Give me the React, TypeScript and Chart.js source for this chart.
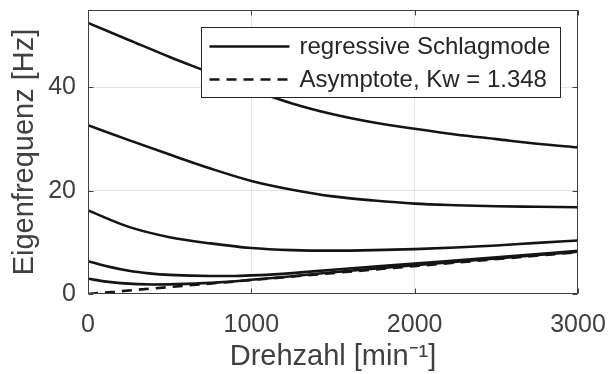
import React, { useEffect, useRef } from "react";
import { Chart, registerables } from "chart.js";

Chart.register(...registerables);

// ---- data ----
const xTicks = [0, 1000, 2000, 3000];
const yTicks = [0, 20, 40];

const rpm1 = [0, 250, 500, 750, 1000, 1250, 1500, 1750, 2000, 2250, 2500, 2750, 3000];
const mode1 = [52.5, 49.2, 45.9, 42.8, 39.6, 36.9, 34.8, 33.2, 32.0, 30.9, 30.0, 29.1, 28.4];

const rpm2 = [0, 250, 500, 750, 1000, 1250, 1500, 1750, 2000, 2250, 2500, 2750, 3000];
const mode2 = [32.7, 29.8, 27.0, 24.3, 21.9, 20.2, 18.9, 18.1, 17.5, 17.2, 17.0, 16.9, 16.8];

const rpm3 = [0, 250, 500, 750, 1000, 1250, 1500, 1750, 2000, 2250, 2500, 2750, 3000];
const mode3 = [16.2, 13.0, 11.0, 9.8, 8.9, 8.5, 8.4, 8.5, 8.7, 9.0, 9.4, 9.9, 10.35];

const rpm4 = [0, 125, 250, 375, 500, 750, 900, 1050, 1250, 1500, 2000, 2500, 3000];
const mode4 = [6.35, 5.3, 4.5, 4.0, 3.7, 3.5, 3.5, 3.65, 4.05, 4.7, 5.9, 7.1, 8.35];

const rpm5 = [0, 100, 200, 400, 600, 800, 1000, 1200, 1500, 2000, 2500, 3000];
const mode5 = [2.95, 2.45, 2.1, 1.85, 1.97, 2.25, 2.75, 3.3, 4.2, 5.6, 6.9, 8.2];

const asymRpm = [0, 3000];
const asymHz = [0, 8.1];

const solidLabel = "regressive Schlagmode";
const dashLabel = "Asymptote, Kw = 1.348";
const xTitle = "Drehzahl [min\u207B\u00B9]";
const yTitle = "Eigenfrequenz [Hz]";

const FONT = "'Liberation Sans', Arial, Helvetica, sans-serif";
const AXIS_COLOR = "#404040";
const LINE_COLOR = "#141414";
const DASH = [10, 7];
const legendIdx = [0, 5];

const pts = (xs: number[], ys: number[]) => xs.map((x, i) => ({ x, y: ys[i] }));

const framePlugin = {
  id: "frame",
  afterDatasetsDraw(chart: any) {
    const { ctx, chartArea: a, scales } = chart;
    ctx.save();
    ctx.strokeStyle = AXIS_COLOR;
    ctx.lineWidth = 1;
    const L = Math.round(a.left) + 0.5;
    const R = Math.round(a.right) - 0.5;
    const T = Math.round(a.top) + 0.5;
    const B = Math.round(a.bottom) - 0.5;
    ctx.strokeRect(L, T, R - L, B - T);
    const tl = 5;
    ctx.beginPath();
    xTicks.forEach((v) => {
      const p = Math.round(scales.x.getPixelForValue(v)) + 0.5;
      ctx.moveTo(p, B);
      ctx.lineTo(p, B - tl);
      ctx.moveTo(p, T);
      ctx.lineTo(p, T + tl);
    });
    yTicks.forEach((v) => {
      const p = Math.round(scales.y.getPixelForValue(v)) + 0.5;
      ctx.moveTo(L, p);
      ctx.lineTo(L + tl, p);
      ctx.moveTo(R, p);
      ctx.lineTo(R - tl, p);
    });
    ctx.stroke();
    ctx.restore();
  },
};

const legendPlugin = {
  id: "boxLegend",
  afterDraw(chart: any) {
    const { ctx, chartArea: a } = chart;
    const ds = legendIdx.map((i) => chart.data.datasets[i]);
    ctx.save();
    ctx.font = `24px ${FONT}`;
    const maxW = Math.max(...ds.map((d: any) => ctx.measureText(d.label).width));
    const padL = 8, lineLen = 80, gap = 10, padR = 10, rowH = 33, firstRow = 19;
    const w = Math.round(padL + lineLen + gap + maxW + padR);
    const h = 70;
    const left = Math.round(a.right - 18 - w) + 0.5;
    const top = Math.round(a.top + 17) + 0.5;
    ctx.fillStyle = "#ffffff";
    ctx.fillRect(left, top, w, h);
    ctx.strokeStyle = "#262626";
    ctx.lineWidth = 1;
    ctx.strokeRect(left, top, w, h);
    ds.forEach((d: any, i: number) => {
      const cy = top + firstRow + i * rowH;
      ctx.beginPath();
      ctx.strokeStyle = d.borderColor;
      ctx.lineWidth = d.borderWidth;
      ctx.setLineDash(d.borderDash || []);
      ctx.moveTo(left + padL, cy);
      ctx.lineTo(left + padL + lineLen, cy);
      ctx.stroke();
      ctx.setLineDash([]);
      ctx.fillStyle = "#262626";
      ctx.textAlign = "left";
      ctx.textBaseline = "middle";
      ctx.fillText(d.label, left + padL + lineLen + gap, cy + 1);
    });
    ctx.restore();
  },
};

export default function App() {
  const ref = useRef<HTMLCanvasElement | null>(null);

  useEffect(() => {
    if (!ref.current) return;
    const mk = (label: string, xs: number[], ys: number[], dash?: number[]) => ({
      label,
      data: pts(xs, ys),
      showLine: true,
      borderColor: LINE_COLOR,
      backgroundColor: LINE_COLOR,
      borderWidth: 2.6,
      borderDash: dash || [],
      pointRadius: 0,
      pointHoverRadius: 0,
      cubicInterpolationMode: "monotone",
      fill: false,
    });
    const chart = new Chart(ref.current, {
      type: "scatter",
      data: {
        datasets: [
          mk(solidLabel, rpm1, mode1),
          mk("", rpm2, mode2),
          mk("", rpm3, mode3),
          mk("", rpm4, mode4),
          mk("", rpm5, mode5),
          mk(dashLabel, asymRpm, asymHz, DASH),
        ] as any,
      },
      options: {
        animation: false,
        responsive: false,
        devicePixelRatio: 1,
        layout: { padding: { top: 10, right: 30, left: 0, bottom: 0 } },
        plugins: { legend: { display: false }, tooltip: { enabled: false } },
        scales: {
          x: {
            type: "linear",
            min: 0,
            max: 3000,
            afterBuildTicks: (s: any) => {
              s.ticks = xTicks.map((v) => ({ value: v }));
            },
            afterFit: (s: any) => {
              s.height = 80;
              s.paddingLeft = 0;
              s.paddingRight = 0;
              s.paddingTop = 0;
              s.paddingBottom = 0;
            },
            grid: {
              drawTicks: false,
              tickLength: 0,
              color: (c: any) =>
                c.tick && (c.tick.value === 0 || c.tick.value === 3000) ? "rgba(0,0,0,0)" : "#e3e3e3",
            },
            border: { display: false },
            ticks: {
              padding: 16,
              color: AXIS_COLOR,
              font: { family: FONT, size: 25 },
              maxRotation: 0,
              callback: (v: any) => String(v),
            },
            title: {
              display: true,
              text: xTitle,
              color: AXIS_COLOR,
              font: { family: FONT, size: 29 },
              padding: { top: 0, bottom: 0 },
            },
          },
          y: {
            type: "linear",
            min: 0,
            max: 55,
            afterBuildTicks: (s: any) => {
              s.ticks = yTicks.map((v) => ({ value: v }));
            },
            afterFit: (s: any) => {
              s.width = 88;
              s.paddingLeft = 0;
              s.paddingRight = 0;
              s.paddingTop = 0;
              s.paddingBottom = 0;
            },
            grid: {
              drawTicks: false,
              tickLength: 0,
              color: (c: any) => (c.tick && c.tick.value === 0 ? "rgba(0,0,0,0)" : "#e3e3e3"),
            },
            border: { display: false },
            ticks: {
              padding: 12,
              color: AXIS_COLOR,
              font: { family: FONT, size: 25 },
              callback: (v: any) => String(v),
            },
            title: {
              display: true,
              text: yTitle,
              color: AXIS_COLOR,
              font: { family: FONT, size: 29 },
              padding: { top: 8, bottom: 0 },
            },
          },
        },
      },
      plugins: [framePlugin, legendPlugin],
    } as any);
    return () => chart.destroy();
  }, []);

  return (
    <div style={{ position: "fixed", left: 0, top: 0, width: 608, height: 374, background: "#fff" }}>
      <canvas ref={ref} width={608} height={374} style={{ display: "block" }} />
    </div>
  );
}
